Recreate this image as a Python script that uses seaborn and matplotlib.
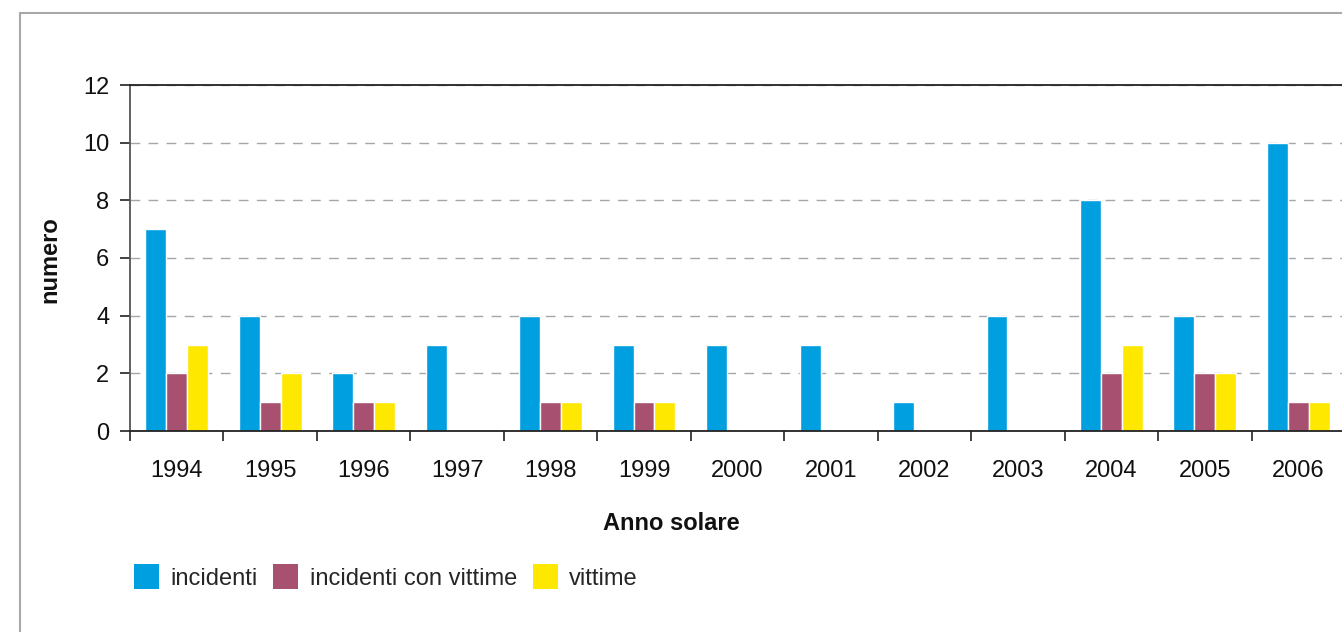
import numpy as np
import pandas as pd
import matplotlib
matplotlib.use("Agg")
import matplotlib.pyplot as plt
import seaborn as sns
from matplotlib.patches import Rectangle, Patch

years = ["1994", "1995", "1996", "1997", "1998", "1999", "2000",
         "2001", "2002", "2003", "2004", "2005", "2006"]
incidenti = [7, 4, 2, 3, 4, 3, 3, 3, 1, 4, 8, 4, 10]
incidenti_con_vittime = [2, 1, 1, 0, 1, 1, 0, 0, 0, 0, 2, 2, 1]
vittime = [3, 2, 1, 0, 1, 1, 0, 0, 0, 0, 3, 2, 1]
series_names = ["incidenti", "incidenti con vittime", "vittime"]
colors = ["#009FE0", "#A8506F", "#FFE800"]
y_ticks = [0, 2, 4, 6, 8, 10, 12]

df = pd.DataFrame({
    "anno": years * 3,
    "serie": [series_names[0]] * len(years) + [series_names[1]] * len(years) + [series_names[2]] * len(years),
    "numero": incidenti + incidenti_con_vittime + vittime,
})

sns.set_theme(style="white")
plt.rcParams["font.family"] = ["Liberation Sans", "DejaVu Sans"]

FS = 17
W, H = 1342, 632
fig = plt.figure(figsize=(W / 100, H / 100), dpi=100)
left, right, top, bottom = 130, 1345, 85, 431
ax = fig.add_axes([left / W, 1 - bottom / H, (right - left) / W, (bottom - top) / H])

sns.barplot(data=df, x="anno", y="numero", hue="serie", palette=colors,
            width=0.67, gap=0, ax=ax, legend=False, saturation=1)

ax.set_xlim(-0.5, len(years) - 0.5)
ax.set_ylim(0, 12)
ax.set_yticks(y_ticks)
ax.set_yticklabels([str(v) for v in y_ticks], fontsize=FS, color="#111111")
ax.yaxis.grid(True, linestyle=(0, (7, 6)), color="#a3a6ab", linewidth=1.0)
ax.set_axisbelow(True)

ax.set_xticks(range(len(years)))
ax.set_xticklabels(years, fontsize=FS, color="#111111")
ax.set_xticks(np.arange(-0.5, len(years) + 0.5, 1), minor=True)
ax.tick_params(axis="x", which="major", length=0, pad=21)
ax.tick_params(axis="x", which="minor", length=7, width=1.2, color="#222222", direction="out", bottom=True)
ax.tick_params(axis="y", which="major", length=7, width=1.2, color="#222222", direction="out", left=True, pad=8)

for s in ["left", "bottom", "top", "right"]:
    ax.spines[s].set_visible(True)
    ax.spines[s].set_color("#222222")
    ax.spines[s].set_linewidth(1.3)
ax.spines["left"].set_color("#555555")

ax.set_xlabel("")
ax.set_ylabel("")

fig.text(50 / W, 1 - 260 / H, "numero", rotation=90, ha="center", va="center",
         fontsize=FS, fontweight="bold", color="#111111")
fig.text(671 / W, 1 - 523 / H, "Anno solare", ha="center", va="center",
         fontsize=FS, fontweight="bold", color="#111111")

# outer frame
fig.patches.append(Rectangle((20 / W, -0.1), 1.2, 1 - 13 / H + 0.1, transform=fig.transFigure,
                             fill=False, edgecolor="#a8a8a8", linewidth=1.5))

handles = [Patch(facecolor=c, edgecolor="none") for c in colors]
fig.legend(handles, series_names, loc="center left", bbox_to_anchor=(134 / W, 1 - 577 / H),
           ncol=3, frameon=False, fontsize=FS, handlelength=1.06, handleheight=1.25,
           handletextpad=0.47, columnspacing=0.68, borderaxespad=0, borderpad=0)

fig.savefig("out.png", dpi=100, facecolor="white")
